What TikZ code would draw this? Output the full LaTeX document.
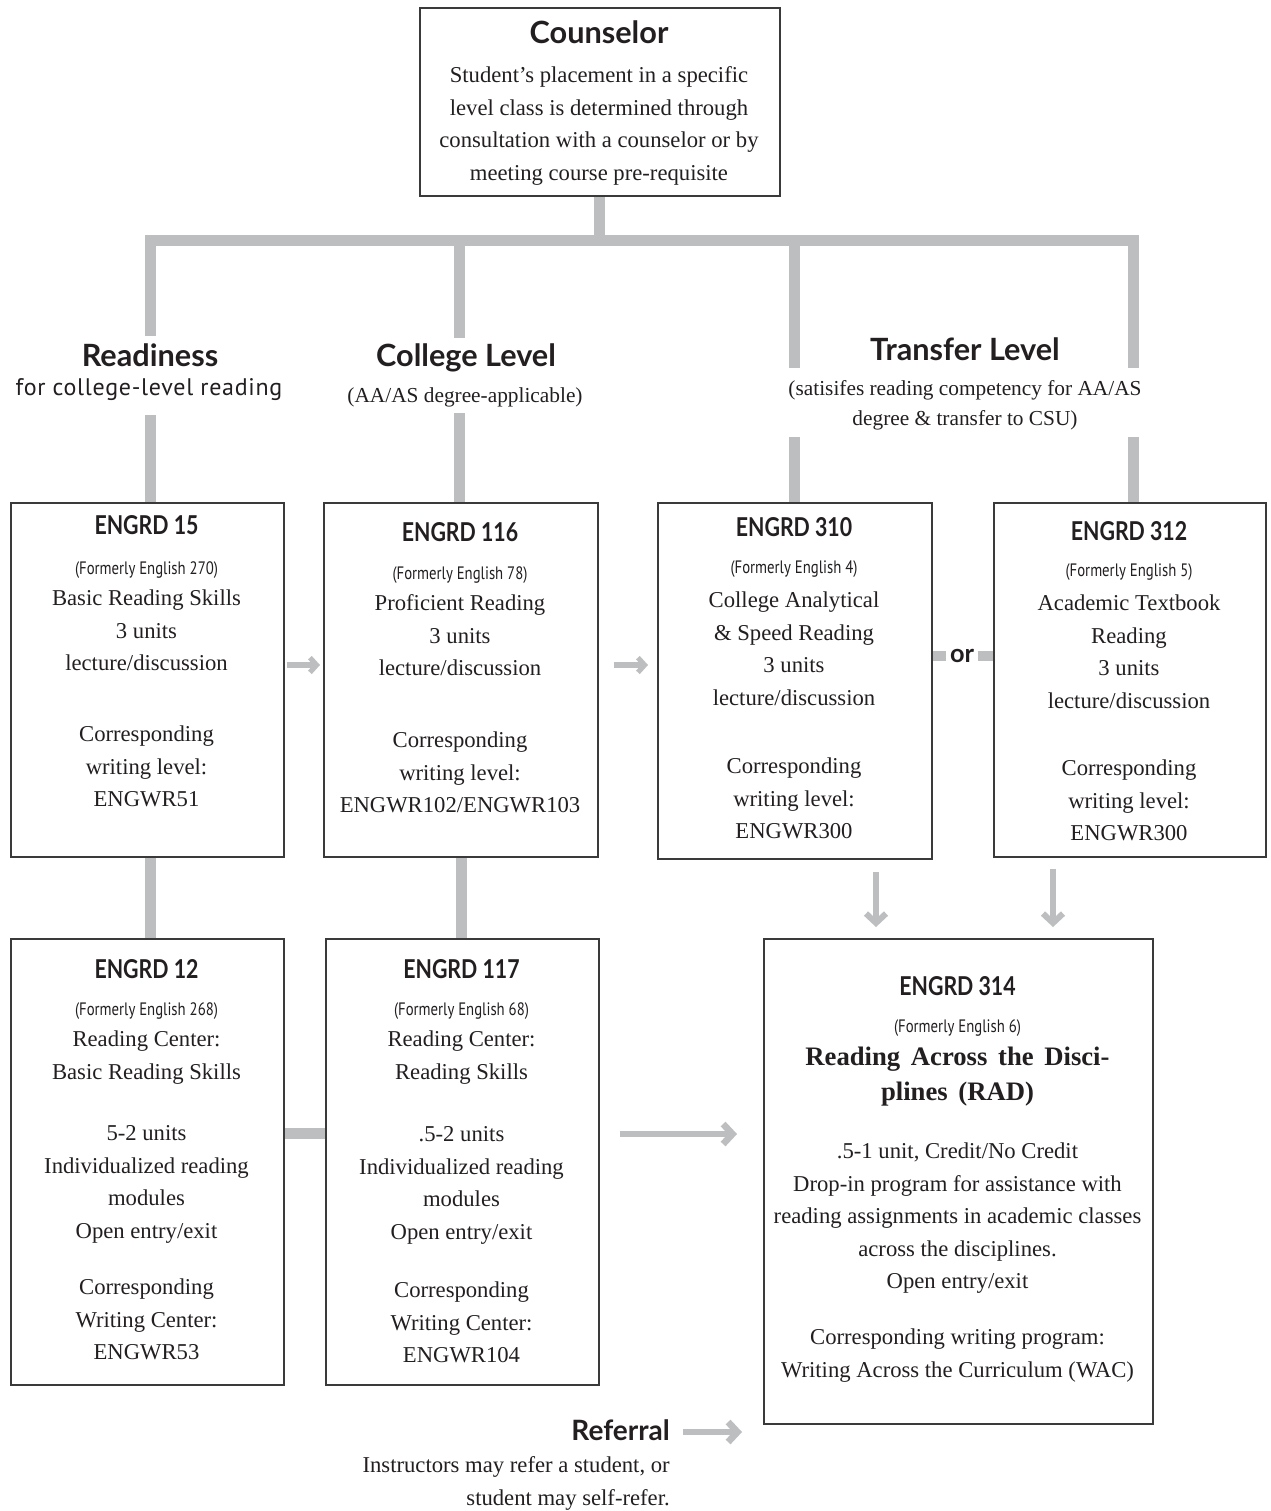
\documentclass[tikz,border=0pt]{standalone}
\usepackage{fontspec}
\setmainfont{Liberation Serif}
\newfontfamily\hdfont{Lato}
\newfontfamily\hdnarrow[FakeStretch=0.82]{Lato}
\newfontfamily\smsans[FakeStretch=0.82]{PT Sans}
\newfontfamily\subsans[LetterSpace=3]{PT Sans}
\newfontfamily\titleserif[WordSpace=1.6]{Liberation Serif}
\usetikzlibrary{arrows.meta,calc}
\pgfdeclarelayer{bg}
\pgfsetlayers{bg,main}
\definecolor{gbar}{HTML}{BDBEC0}
\definecolor{bord}{HTML}{3A3A3A}
\definecolor{ink}{HTML}{231F20}
\newcommand\mkbox[5]{\node[box, minimum width={(#4-#2)*0.75pt}, minimum height={(#5-#3)*0.75pt}] (#1) at (#2,#3) {};}
\tikzset{
  box/.style={draw=bord, line width=1.4pt, inner sep=0pt, anchor=north west},
  trunk/.style={draw=gbar, line width=8.25pt, line cap=butt, line join=miter},
  orbar/.style={draw=gbar, line width=7.5pt},
  arrS/.style={draw=gbar, line width=3.8pt, -{Straight Barb[length=5pt,width=11pt]}},
  arrL/.style={draw=gbar, line width=5pt, -{Straight Barb[length=7pt,width=15pt]}},
  arrD/.style={draw=gbar, line width=4.5pt, -{Straight Barb[length=7pt,width=15pt]}},
  body/.style={font=\fontsize{17pt}{24.4pt}\selectfont, align=center, anchor=north, inner sep=0pt, text=ink},
  hd/.style={font=\hdnarrow\bfseries\fontsize{19.5pt}{22pt}\selectfont, anchor=base, inner sep=0pt, text=ink},
  hdbig/.style={font=\hdfont\bfseries\fontsize{23pt}{26pt}\selectfont, anchor=base, inner sep=0pt, text=ink},
  fm/.style={font=\smsans\fontsize{13.5pt}{16pt}\selectfont, anchor=base, inner sep=0pt, text=ink},
  subserif/.style={font=\fontsize{16pt}{22.5pt}\selectfont, inner sep=0pt, text=ink, align=center},
  subs/.style={font=\subsans\fontsize{18pt}{20pt}\selectfont, anchor=base, inner sep=0pt, text=ink},
  ttl/.style={font=\titleserif\bfseries\fontsize{20pt}{26.25pt}\selectfont, align=center, anchor=north, inner sep=0pt, text=ink},
}
\begin{document}
\begin{tikzpicture}[x=0.75pt,y=-0.75pt]
\useasboundingbox (0,0) rectangle (1271,1511);

% ---- boxes ----
\mkbox{counsel}{419}{7}{779}{195}
\mkbox{b15}{10}{502}{283}{856}
\mkbox{b116}{323}{502}{597}{856}
\mkbox{b310}{657}{502}{931}{858}
\mkbox{b312}{993}{502}{1265}{856}
\mkbox{b12}{10}{938}{283}{1384}
\mkbox{b117}{325}{938}{598}{1384}
\mkbox{b314}{763}{938}{1152}{1423}

% ---- counselor ----
\node[hdbig] (hc) at (599,43) {Counselor};
\node[body] (pc) at (599,82-15.5) {Student’s placement in a specific\\level class is determined through\\consultation with a counselor or by\\meeting course pre-requisite};

% ---- level headings ----
\node[hdbig] (rd) at (150,366) {Readiness};
\node[subs] (rds) at (149,395) {for college-level reading};
\node[hdbig] (cl) at (466,366) {College Level};
\node[subserif, anchor=base] (cls) at (465,402) {(AA/AS degree-applicable)};
\node[hdbig] (tl) at (965,360) {Transfer Level};
\node[subserif, anchor=north] (tls) at (965,395-15) {(satisifes reading competency for AA/AS\\degree \& transfer to CSU)};

% ---- box 15 ----
\node[hd] (h15) at (146.5,534) {ENGRD 15};
\node[fm] (f15) at (146.5,574) {(Formerly English 270)};
\node[body] (p15a) at (146.5,605-15.5) {Basic Reading Skills\\3 units\\lecture/discussion};
\node[body] (p15b) at (146.5,741-15.5) {Corresponding\\writing level:\\ENGWR51};

% ---- box 116 ----
\node[hd] (h116) at (460,541) {ENGRD 116};
\node[fm] (f116) at (460,579) {(Formerly English 78)};
\node[body] (p116a) at (460,610-15.5) {Proficient Reading\\3 units\\lecture/discussion};
\node[body] (p116b) at (460,747-15.5) {Corresponding\\writing level:\\ENGWR102/ENGWR103};

% ---- box 310 ----
\node[hd] (h310) at (794,536) {ENGRD 310};
\node[fm] (f310) at (794,573) {(Formerly English 4)};
\node[body] (p310a) at (794,607-15.5) {College Analytical\\\& Speed Reading\\3 units\\lecture/discussion};
\node[body] (p310b) at (794,773-15.5) {Corresponding\\writing level:\\ENGWR300};

% ---- box 312 ----
\node[hd] (h312) at (1129,540) {ENGRD 312};
\node[fm] (f312) at (1129,576) {(Formerly English 5)};
\node[body] (p312a) at (1129,610-15.5) {Academic Textbook\\Reading\\3 units\\lecture/discussion};
\node[body] (p312b) at (1129,775-15.5) {Corresponding\\writing level:\\ENGWR300};

% ---- box 12 ----
\node[hd] (h12) at (146.5,978) {ENGRD 12};
\node[fm] (f12) at (146.5,1015) {(Formerly English 268)};
\node[body] (p12a) at (146.5,1046-15.5) {Reading Center:\\Basic Reading Skills};
\node[body] (p12b) at (146.5,1141-15.5) {5-2 units\\Individualized reading\\modules\\Open entry/exit};
\node[body] (p12c) at (146.5,1294-15.5) {Corresponding\\Writing Center:\\ENGWR53};

% ---- box 117 ----
\node[hd] (h117) at (461.5,978) {ENGRD 117};
\node[fm] (f117) at (461.5,1015) {(Formerly English 68)};
\node[body] (p117a) at (461.5,1046-15.5) {Reading Center:\\Reading Skills};
\node[body] (p117b) at (461.5,1142-15.5) {.5-2 units\\Individualized reading\\modules\\Open entry/exit};
\node[body] (p117c) at (461.5,1297-15.5) {Corresponding\\Writing Center:\\ENGWR104};

% ---- box 314 ----
\node[hd] (h314) at (957.5,995) {ENGRD 314};
\node[fm] (f314) at (957.5,1032) {(Formerly English 6)};
\node[ttl] (t314) at (957.5,1065-18) {Reading Across the Disci-\\plines (RAD)};
\node[body] (p314a) at (957.5,1158-15.5) {.5-1 unit, Credit/No Credit\\Drop-in program for assistance with\\reading assignments in academic classes\\across the disciplines.\\Open entry/exit};
\node[body] (p314b) at (957.5,1344-15.5) {Corresponding writing program:\\Writing Across the Curriculum (WAC)};

% ---- referral ----
\node[font=\hdfont\bfseries\fontsize{21pt}{24pt}\selectfont, anchor=base east, inner sep=0pt, text=ink] (ref) at (670,1440) {Referral};
\node[body, align=right, anchor=north east] (refs) at (670,1472-15.5) {Instructors may refer a student, or\\student may self-refer.};

% ---- or ----
\node[font=\hdfont\bfseries\fontsize{19pt}{22pt}\selectfont, inner xsep=2.5pt, inner ysep=0pt, text=ink] (orn) at (962,656) {or};

% ---- connectors ----
\coordinate (hb) at (0,240);
\coordinate (tL) at (150,336);
\coordinate (tLb) at (150,240);
\coordinate (tRb) at (1133,240);
\coordinate (tR) at (1133,368);
\coordinate (cA) at (459,240);
\coordinate (cAe) at (459,338);
\coordinate (tA) at (794,240);
\coordinate (tAe) at (794,368);
\coordinate (l15) at (150,415);
\coordinate (l116) at (459,413);
\coordinate (l310) at (794,437);
\coordinate (l312) at (1133,437);
\coordinate (vx1) at (150,0);
\coordinate (vx2) at (461,0);
\coordinate (hy) at (0,1133);
\coordinate (ya) at (0,665);
\coordinate (yb) at (0,1134);
\coordinate (yr) at (0,1432);
\coordinate (d1) at (876,0);
\coordinate (d2) at (1053,0);

\begin{pgfonlayer}{bg}
\fill[white] (0,0) rectangle (1271,1511);
\draw[trunk] (counsel.south) -- (counsel.south |- hb);
\draw[trunk] (tL) -- (tLb) -- (tRb) -- (tR);
\draw[trunk] (cA) -- (cAe);
\draw[trunk] (tA) -- (tAe);
\draw[trunk] (l15) -- (l15 |- b15.north);
\draw[trunk] (l116) -- (l116 |- b116.north);
\draw[trunk] (l310) -- (l310 |- b310.north);
\draw[trunk] (l312) -- (l312 |- b312.north);
\draw[trunk] (b15.south -| vx1) -- (b12.north -| vx1);
\draw[trunk] (b116.south -| vx2) -- (b117.north -| vx2);
\draw[trunk] (b12.east |- hy) -- (b117.west |- hy);
\draw[orbar] (b310.east |- orn) -- (orn.west);
\draw[orbar] (orn.east) -- (b312.west |- orn);
\end{pgfonlayer}

\draw[arrS, shorten <=1.5pt, shorten >=2.25pt] (b15.east |- ya) -- (b116.west |- ya);
\draw[arrS, shorten <=11.25pt, shorten >=6.75pt] (b116.east |- ya) -- (b310.west |- ya);
\draw[arrD, shorten <=9pt, shorten >=8.25pt] (b310.south -| d1) -- (b314.north -| d1);
\draw[arrD, shorten <=8.25pt, shorten >=8.25pt] (b312.south -| d2) -- (b314.north -| d2);
\draw[arrL, shorten <=15pt, shorten >=19.5pt] (b117.east |- yb) -- (b314.west |- yb);
\draw[arrL, shorten <=9.75pt, shorten >=15.75pt] (ref.east |- yr) -- (b314.west |- yr);
\end{tikzpicture}
\end{document}
